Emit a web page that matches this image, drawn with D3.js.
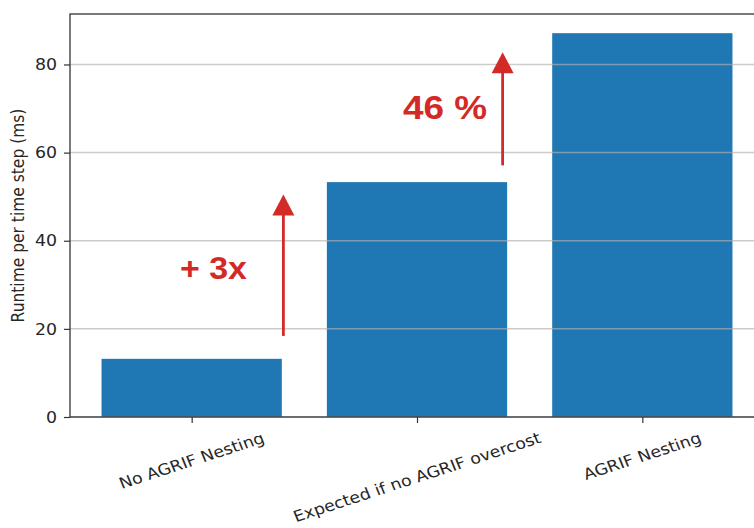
<!DOCTYPE html>
<html>
<head>
<meta charset="utf-8">
<script src="https://cdn.jsdelivr.net/npm/d3@7"></script>
<style>
  html, body { margin: 0; padding: 0; background: #fff; overflow: hidden; }
  svg { display: block; }
</style>
</head>
<body>
<svg id="chart" width="754" height="528"></svg>
<script>
// ---- data ----
const categories = ["No AGRIF Nesting", "Expected if no AGRIF overcost", "AGRIF Nesting"];
const runtimes = [13.2, 53.3, 87.1];
const yTicks = [0, 20, 40, 60, 80];
const yLabel = "Runtime per time step (ms)";
// arrows: x position (category units), start value, tip value
const arrowX = [0.407, 1.38];
const arrowFrom = [18.4, 57.1];
const arrowTo = [50.5, 82.8];
// annotations: text, x (category units, left edge), y (value, baseline)
const annoText = ["+ 3x", "46 %"];
const annoX = [-0.052, 0.938];
const annoY = [31.3, 67.6];

// ---- layout ----
const svg = d3.select("#chart");
const pLeft = 70, pRight = 764, pTop = 14, pBottom = 417;
const sx = 1.12;               // horizontal text stretch seen in the reference
const font = "'DejaVu Sans', sans-serif";
const red = "#d42a27";

const barW = 0.8;
const xMin = -barW / 2, xMax = categories.length - 1 + barW / 2;
const xPad = (xMax - xMin) * 0.05;
const x = d3.scaleLinear().domain([xMin - xPad, xMax + xPad]).range([pLeft, pRight]);
const y = d3.scaleLinear().domain([0, d3.max(runtimes) * 1.05]).range([pBottom, pTop]);

// bars
svg.append("g").selectAll("rect").data(runtimes).join("rect")
  .attr("x", (d, i) => x(i - barW / 2))
  .attr("width", (d, i) => x(i + barW / 2) - x(i - barW / 2))
  .attr("y", d => y(d))
  .attr("height", d => y(0) - y(d))
  .attr("fill", "#1f77b4");

// grid (drawn above bars)
svg.append("g").selectAll("line").data(yTicks).join("line")
  .attr("x1", pLeft).attr("x2", pRight)
  .attr("y1", d => y(d)).attr("y2", d => y(d))
  .attr("stroke", "#b0b0b0").attr("stroke-opacity", 0.65).attr("stroke-width", 1.5);

// y axis
const yAxis = d3.axisLeft(y).tickValues(yTicks).tickSize(6).tickPadding(6).tickFormat(d3.format("d"));
const gy = svg.append("g").attr("transform", `translate(${pLeft},0)`).call(yAxis);
gy.select(".domain").remove();
gy.selectAll(".tick line").attr("stroke", "#333").attr("stroke-width", 1.2);
gy.selectAll(".tick text")
  .attr("font-family", font).attr("font-size", 15.5).attr("fill", "#262626")
  .attr("x", null).attr("dy", null)
  .attr("dominant-baseline", "central")
  .attr("transform", `translate(-13,0) scale(${sx},1)`);

// x axis
const xAxis = d3.axisBottom(x).tickValues(d3.range(categories.length)).tickSize(6).tickFormat(() => "");
const gx = svg.append("g").attr("transform", `translate(0,${pBottom})`).call(xAxis);
gx.select(".domain").remove();
gx.selectAll(".tick line").attr("stroke", "#333").attr("stroke-width", 1.2);
gx.selectAll(".tick text").remove();

// rotated category labels
const angle = 20, rad = angle * Math.PI / 180;
const labelTop = pBottom + 6 + 6;
const labG = svg.append("g");
categories.forEach((c, i) => {
  const t = labG.append("text")
    .attr("font-family", font).attr("font-size", 15.5).attr("fill", "#262626")
    .attr("text-anchor", "middle").attr("dominant-baseline", "central")
    .text(c);
  const L = t.node().getComputedTextLength();
  const h = 15.5 * 1.15;
  const bh = L * Math.sin(rad) + h * Math.cos(rad);
  t.attr("transform", `translate(${x(i)},${labelTop + bh / 2}) scale(${sx},1) rotate(${-angle})`);
});

// y label
svg.append("text")
  .attr("font-family", font).attr("font-size", 15.5).attr("fill", "#262626")
  .attr("text-anchor", "middle").attr("dominant-baseline", "central")
  .attr("transform", `translate(18,${(pTop + pBottom) / 2}) scale(${sx},1) rotate(-90)`)
  .text(yLabel);

// spines
const sp = svg.append("g").attr("stroke", "#333").attr("stroke-width", 1.3).attr("fill", "none");
sp.append("rect").attr("x", pLeft).attr("y", pTop).attr("width", pRight - pLeft).attr("height", pBottom - pTop);

// arrows
const headW = 22, headL = 21;
const arr = svg.append("g");
arrowX.forEach((ax, i) => {
  const px = x(ax), y0 = y(arrowFrom[i]), y1 = y(arrowTo[i]);
  arr.append("line").attr("x1", px).attr("x2", px).attr("y1", y0).attr("y2", y1 + headL - 1)
    .attr("stroke", red).attr("stroke-width", 2.8);
  arr.append("path")
    .attr("d", `M${px},${y1} L${px - headW / 2},${y1 + headL} L${px + headW / 2},${y1 + headL} Z`)
    .attr("fill", red);
});

// annotation texts
const annoW = [67, 84];
const annoSize = [31, 33];
annoText.forEach((s, i) => {
  svg.append("text")
    .attr("x", x(annoX[i])).attr("y", y(annoY[i]))
    .attr("font-family", "'Liberation Sans', Arial, sans-serif")
    .attr("font-weight", "bold").attr("font-size", annoSize[i])
    .attr("fill", red)
    .attr("textLength", annoW[i]).attr("lengthAdjust", "spacingAndGlyphs")
    .text(s);
});
</script>
</body>
</html>
